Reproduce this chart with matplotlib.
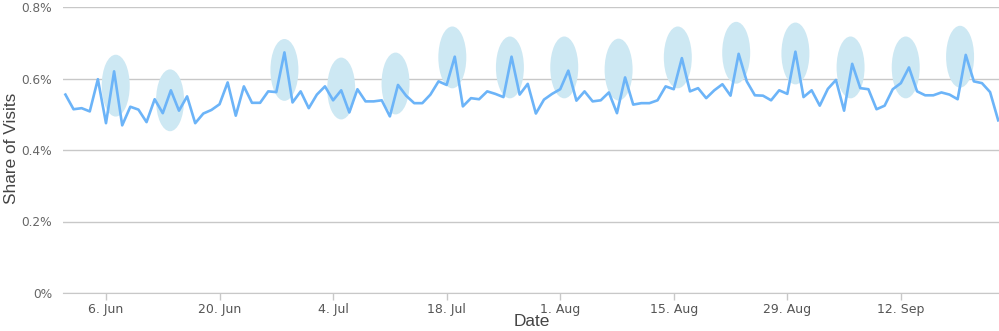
import datetime as dt
import numpy as np
import matplotlib
matplotlib.use('Agg')
import matplotlib.pyplot as plt
import matplotlib.dates as mdates
from matplotlib.patches import Ellipse
from matplotlib.ticker import FuncFormatter, FixedLocator

# daily share of visits (%), 1 Jun .. 24 Sep
start = dt.date(2022, 6, 1)
share = [
    0.555, 0.514, 0.517, 0.508, 0.598, 0.475, 0.620, 0.469, 0.521, 0.513,
    0.478, 0.542, 0.503, 0.567, 0.510, 0.550, 0.475, 0.502, 0.512, 0.528,
    0.589, 0.496, 0.578, 0.532, 0.532, 0.564, 0.562, 0.673, 0.533, 0.564,
    0.517, 0.555, 0.578, 0.539, 0.567, 0.505, 0.570, 0.536, 0.536, 0.539,
    0.494, 0.582, 0.552, 0.531, 0.531, 0.555, 0.592, 0.582, 0.661, 0.522,
    0.545, 0.542, 0.564, 0.557, 0.548, 0.661, 0.555, 0.585, 0.502, 0.541,
    0.557, 0.570, 0.622, 0.538, 0.564, 0.536, 0.539, 0.561, 0.503, 0.603,
    0.527, 0.531, 0.531, 0.539, 0.578, 0.570, 0.657, 0.564, 0.573, 0.545,
    0.567, 0.584, 0.552, 0.669, 0.592, 0.553, 0.552, 0.539, 0.567, 0.557,
    0.675, 0.548, 0.567, 0.524, 0.571, 0.596, 0.510, 0.641, 0.573, 0.570,
    0.514, 0.524, 0.570, 0.587, 0.631, 0.564, 0.553, 0.553, 0.561, 0.555,
    0.542, 0.666, 0.592, 0.587, 0.562, 0.483,
]
dates = [start + dt.timedelta(days=i) for i in range(len(share))]

# highlighted peaks: day offset from start, share (%)
peak_days = [6.2, 12.9, 27.0, 34.0, 40.7, 47.7, 54.8, 61.5, 68.2, 75.5,
             82.7, 90.0, 96.8, 103.6, 110.3]
peak_vals = [0.580, 0.539, 0.624, 0.572, 0.586, 0.659, 0.631, 0.631, 0.625,
             0.659, 0.672, 0.670, 0.631, 0.631, 0.661]

tick_dates = [dt.date(2022, 6, 6) + dt.timedelta(days=14 * k) for k in range(8)]
yticks = [0, 0.2, 0.4, 0.6, 0.8]

fig = plt.figure(figsize=(9.99, 3.31), dpi=100)
ax = fig.add_axes([63 / 999, 1 - 293 / 331, 936 / 999, 286 / 331])

x = mdates.date2num(dates)
x0 = mdates.date2num(start)

for d, v in zip(peak_days, peak_vals):
    e = Ellipse((x0 + d, v), width=3.45, height=0.173,
                facecolor='#cde8f3', edgecolor='none', zorder=2)
    ax.add_patch(e)

ax.plot(x, share, color='#6cb4f8', lw=1.9, zorder=3)

ax.set_xlim(x0 - 0.3, x0 + 115.1)
ax.set_ylim(0, 0.8)

ax.yaxis.set_major_locator(FixedLocator(yticks))
ax.yaxis.set_major_formatter(FuncFormatter(
    lambda v, p: '0%' if v == 0 else '%.1f%%' % v))
ax.xaxis.set_major_locator(FixedLocator(mdates.date2num(tick_dates)))
ax.xaxis.set_major_formatter(FuncFormatter(
    lambda v, p: '%d. %s' % (mdates.num2date(v).day, mdates.num2date(v).strftime('%b'))))

ax.grid(axis='y', color='#c8c8c8', lw=1, zorder=1)
ax.set_axisbelow(True)
for s in ['top', 'right', 'left']:
    ax.spines[s].set_visible(False)
ax.spines['bottom'].set_color('#c8c8c8')
ax.spines['bottom'].set_zorder(1)

ax.tick_params(axis='y', length=0, pad=8, labelsize=8.7, labelcolor='#666666')
ax.tick_params(axis='x', length=5, width=1, color='#c8c8c8', pad=2,
               labelsize=9, labelcolor='#555555')

fig.text(12 / 999, 1 - 148 / 331, 'Share of Visits', rotation=90,
         ha='center', va='center', fontsize=12.4, color='#444444',
         family='Liberation Sans')
fig.text(532 / 999, 1 - 322 / 331, 'Date', ha='center', va='center',
         fontsize=12.4, color='#444444', family='Liberation Sans')

fig.savefig('out.png', dpi=100)
